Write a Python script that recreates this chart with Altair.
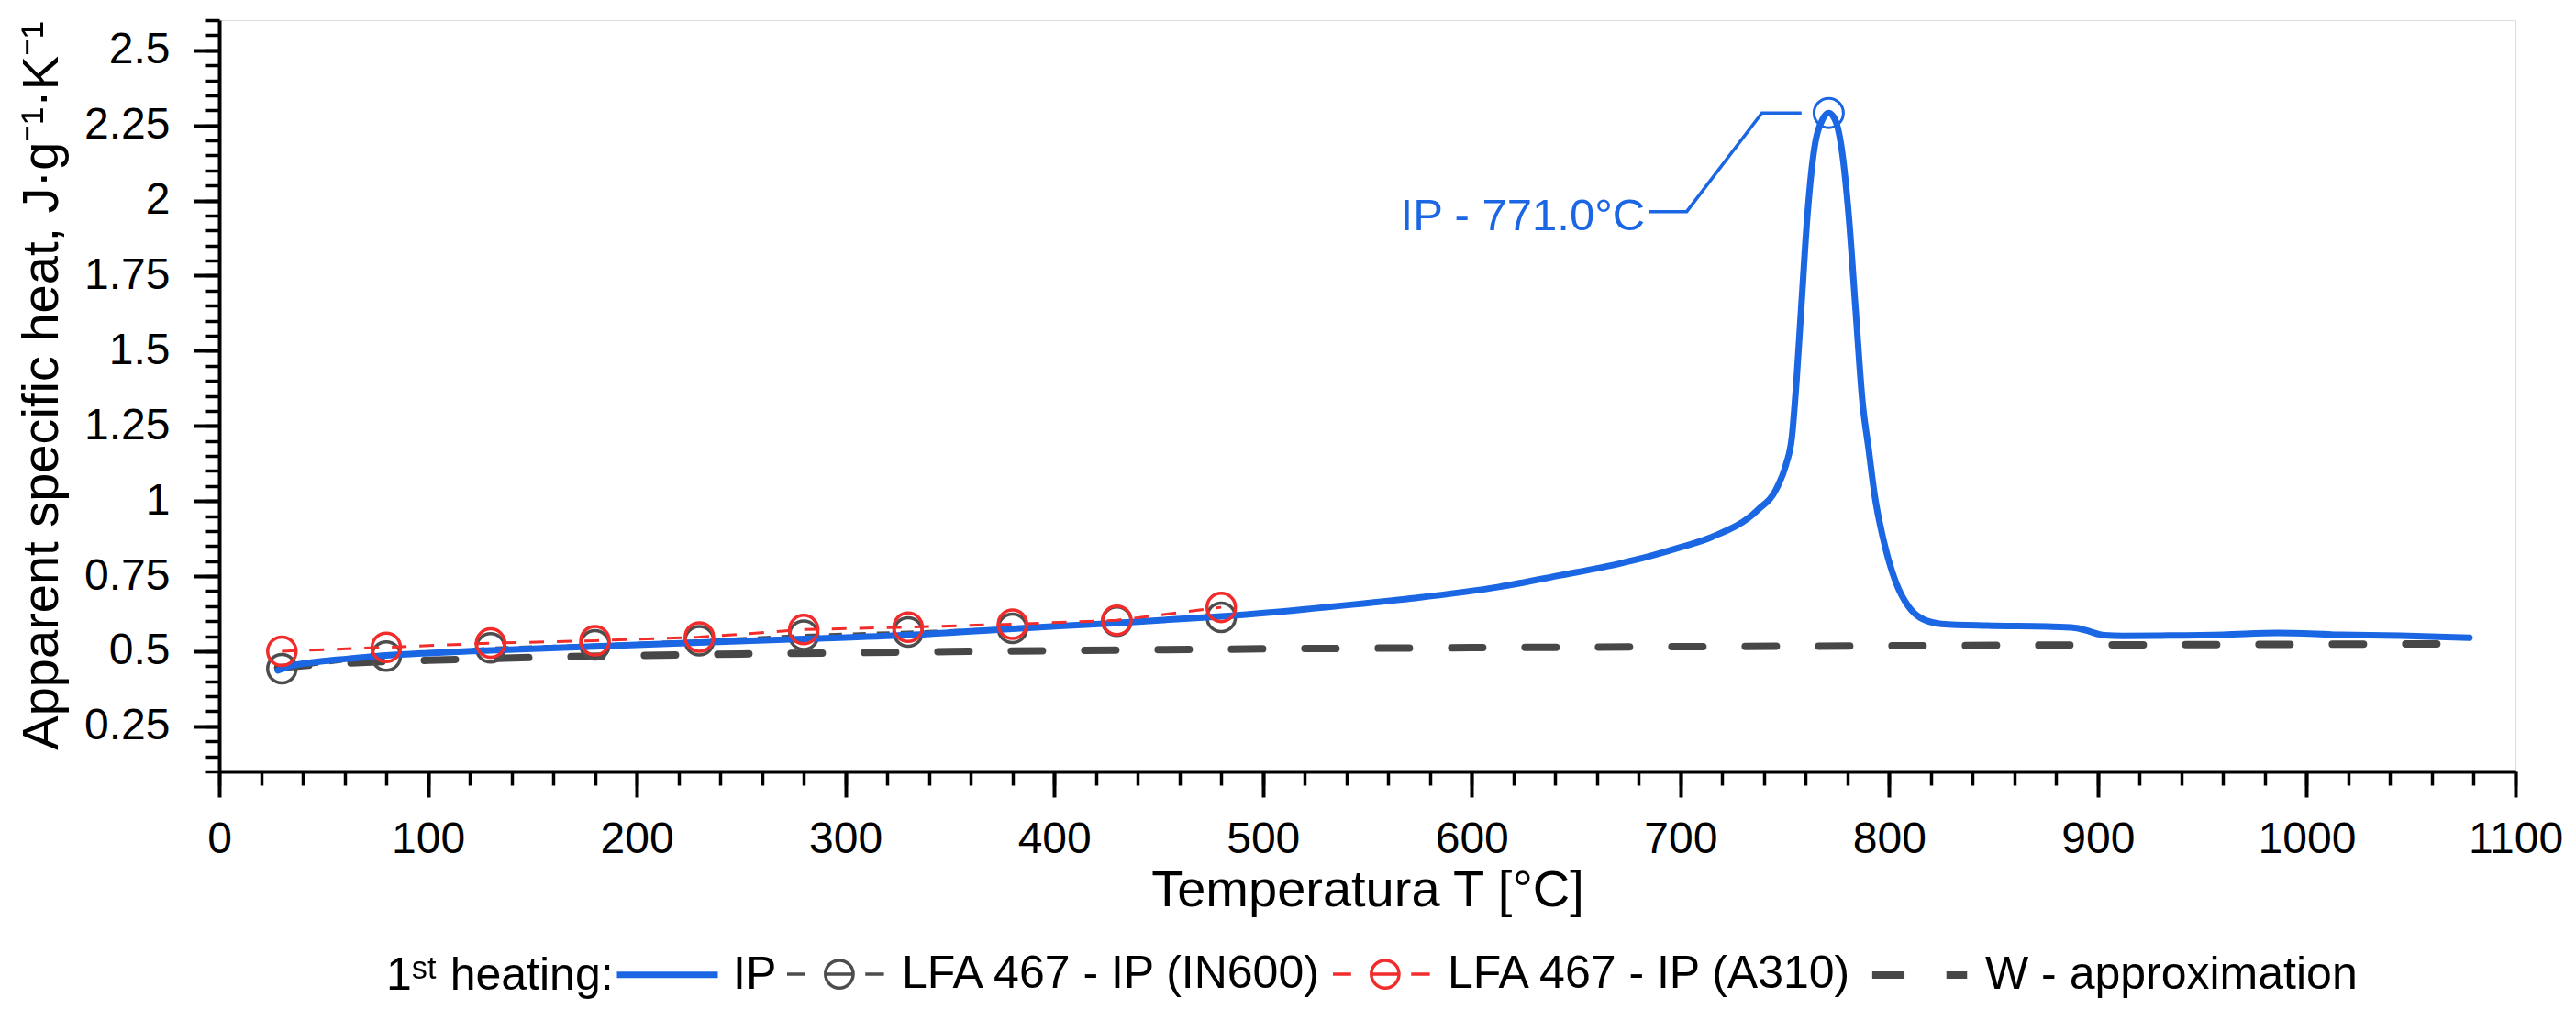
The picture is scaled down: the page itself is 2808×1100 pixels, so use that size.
import altair as alt
import pandas as pd

# ---------------- data ----------------
ip_T = [28, 35, 45, 55, 65, 80, 100, 130, 180, 230, 280, 330, 380, 430, 466,
        480, 525, 569, 613, 642, 671, 686, 700, 715, 737, 746, 750.5, 753.4, 755.6,
        757.8, 760.8, 763.7, 768.1, 771, 774, 777.6, 780.6, 783.9, 787.2, 790.1,
        793, 797.4, 803.3, 809.1, 815, 825, 847, 876, 889, 896, 903, 912, 930,
        960, 986, 1016, 1045, 1078]
ip_cp = [0.436, 0.452, 0.463, 0.471, 0.477, 0.486, 0.494, 0.503, 0.516, 0.529,
         0.541, 0.554, 0.575, 0.594, 0.610, 0.616, 0.643, 0.674, 0.714, 0.752,
         0.792, 0.818, 0.846, 0.880, 0.970, 1.041, 1.120, 1.214, 1.402, 1.636, 1.950,
         2.153, 2.270, 2.291, 2.270, 2.153, 1.950, 1.636, 1.329, 1.175, 1.020,
         0.866, 0.727, 0.650, 0.611, 0.591, 0.585, 0.582, 0.578, 0.566, 0.553,
         0.551, 0.552, 0.555, 0.561, 0.555, 0.552, 0.545]

lfa_T = [30, 80, 130, 180, 230, 280, 330, 380, 430, 480]
in600_cp = [0.442, 0.484, 0.511, 0.521, 0.535, 0.553, 0.564, 0.576, 0.600, 0.613]
a310_cp = [0.500, 0.513, 0.527, 0.535, 0.547, 0.572, 0.580, 0.590, 0.603, 0.646]

w_T = [28, 40, 60, 80, 100, 130, 160, 200, 250, 300, 350, 400, 450, 500, 600,
       700, 800, 900, 1000, 1078]
w_cp = [0.445, 0.452, 0.460, 0.466, 0.470, 0.476, 0.481, 0.486, 0.491, 0.495,
        0.499, 0.502, 0.505, 0.508, 0.512, 0.515, 0.518, 0.521, 0.523, 0.525]

peak_T = [771.0]
peak_cp = [2.291]
leader_T = [685, 703, 739, 758]
leader_cp = [1.963, 1.963, 2.291, 2.291]
label_T = [683]
label_cp = [1.90]
label_text = ["IP - 771.0°C"]

series_names = ["IP", "LFA 467 - IP (IN600)", "LFA 467 - IP (A310)", "W - approximation"]
series_colors = ["#1a66e3", "#4d4d4d", "#f22b2b", "#474747"]
legend_widths = [7, 3.5, 3.5, 8]
BLUE, GRAY, RED, DARK = series_colors

x_major = list(range(0, 1101, 100))
x_minor = list(range(0, 1101, 20))
y_major = [0.25, 0.5, 0.75, 1, 1.25, 1.5, 1.75, 2, 2.25, 2.5]
y_minor = [round(0.1 + 0.05 * i, 2) for i in range(51)]

# legend glyphs (unit-box symbol paths)
lfa_path = ("M-1,0H-0.64M-0.24,0H0.31M0.55,0H0.92"
            "M-0.24,0A0.275,0.275 0 1,0 0.31,0A0.275,0.275 0 1,0 -0.24,0")
legend_shapes = ["M-1,0H1", lfa_path, lfa_path, "M-0.93,0H-0.29M0.54,0H0.95"]

# ---------------- frames ----------------
ip_df = pd.DataFrame({"T": ip_T, "cp": ip_cp})
in600_df = pd.DataFrame({"T": lfa_T, "cp": in600_cp})
a310_df = pd.DataFrame({"T": lfa_T, "cp": a310_cp})
w_df = pd.DataFrame({"T": w_T, "cp": w_cp})
peak_df = pd.DataFrame({"T": peak_T, "cp": peak_cp})
leader_df = pd.DataFrame({"T": leader_T, "cp": leader_cp})
label_df = pd.DataFrame({"T": label_T, "cp": label_cp, "txt": label_text})
legend_df = pd.DataFrame({"series": series_names, "T": [1100] * 4, "cp": [2.6] * 4})

FONT = "Liberation Sans"
xs = alt.Scale(domain=[0, 1100], nice=False, zero=False)
ys = alt.Scale(domain=[0.1, 2.6], nice=False, zero=False)
cs = alt.Scale(domain=series_names, range=series_colors)

x_axis = alt.Axis(values=x_major, format="d", orient="bottom",
                  title="Temperatura T [°C]", titleFont=FONT, titleFontSize=56,
                  titleFontWeight="normal", titleColor="black", titleY=146,
                  titleBaseline="alphabetic",
                  tickSize=28, tickWidth=4, tickColor="black",
                  domainColor="black", domainWidth=4,
                  labelFont=FONT, labelFontSize=48, labelColor="black",
                  labelPadding=22, labelFlush=False, labelOverlap=False, grid=False)
y_axis = alt.Axis(values=y_major, format=".3~g", orient="left",
                  title="Apparent specific heat, J·g⁻¹·K⁻¹", titleFont=FONT,
                  titleFontSize=56, titleFontWeight="normal", titleColor="black",
                  titleAngle=270, titleX=-177, titleY=398, titleAlign="center",
                  titleBaseline="alphabetic",
                  tickSize=28, tickWidth=4, tickColor="black",
                  domainColor="black", domainWidth=4,
                  labelFont=FONT, labelFontSize=48, labelColor="black",
                  labelPadding=26, labelFlush=False, labelOverlap=False, grid=False)
x_minor_axis = alt.Axis(values=x_minor, orient="bottom", title=None, labels=False,
                        domain=False, grid=False, tickSize=15, tickWidth=3.5,
                        tickColor="black")
y_minor_axis = alt.Axis(values=y_minor, orient="left", title=None, labels=False,
                        domain=False, grid=False, tickSize=15, tickWidth=3.5,
                        tickColor="black")

legend = alt.Legend(
    orient="none", legendX=182, legendY=982, direction="horizontal",
    title="1ˢᵗ heating:", titleOrient="left", titleAnchor="middle",
    titleBaseline="line-top", titleLineHeight=37, titleFont=FONT, titleFontSize=50,
    titleFontWeight="normal", titleColor="black", titlePadding=0, titleLimit=1000,
    labelFont=FONT, labelFontSize=50, labelColor="black", labelLimit=2000,
    labelOffset=13, columnPadding=4, symbolSize=12100, symbolOpacity=1,
)

X = lambda axis=None: alt.X("T:Q", scale=xs, axis=axis)
Y = lambda axis=None: alt.Y("cp:Q", scale=ys, axis=axis)

w_line = alt.Chart(w_df).mark_line(strokeWidth=8, strokeDash=[34, 46],
                                   strokeCap="round", color=DARK).encode(
    x=X(x_minor_axis), y=Y(y_minor_axis))

in600_line = alt.Chart(in600_df).mark_line(strokeWidth=3, strokeDash=[14, 12],
                                          color=GRAY).encode(x=X(), y=Y())
in600_pts = alt.Chart(in600_df).mark_point(shape="circle", filled=False, size=961,
                                          strokeWidth=3.5, opacity=1,
                                          color=GRAY).encode(x=X(), y=Y())

ip_line = alt.Chart(ip_df).mark_line(strokeWidth=7, interpolate="monotone",
                                     strokeCap="round", strokeJoin="round",
                                     color=BLUE).encode(x=X(x_axis), y=Y(y_axis))

a310_line = alt.Chart(a310_df).mark_line(strokeWidth=3, strokeDash=[16, 14],
                                        color=RED).encode(x=X(), y=Y())
a310_pts = alt.Chart(a310_df).mark_point(shape="circle", filled=False, size=961,
                                        strokeWidth=3.5, opacity=1,
                                        color=RED).encode(x=X(), y=Y())

peak_pt = alt.Chart(peak_df).mark_point(shape="circle", filled=False, size=1024,
                                       strokeWidth=3, opacity=1,
                                       color=BLUE).encode(x=X(), y=Y())
leader = alt.Chart(leader_df).mark_line(strokeWidth=3.5, color=BLUE).encode(
    x=X(), y=Y())
label = alt.Chart(label_df).mark_text(font=FONT, fontSize=49, align="right",
                                     baseline="alphabetic", color=BLUE).encode(
    x=X(), y=Y(), text="txt:N")

# legend-only layer: invisible marks, the legend carries the per-series glyphs
legend_layer = alt.Chart(legend_df).mark_point(filled=False, opacity=0).encode(
    x=X(), y=Y(),
    color=alt.Color("series:N", scale=cs, legend=legend),
    shape=alt.Shape("series:N", scale=alt.Scale(domain=series_names,
                                                range=legend_shapes), legend=legend),
    strokeWidth=alt.StrokeWidth("series:N", sort=series_names,
                                scale=alt.Scale(type="ordinal", domain=series_names,
                                                range=legend_widths),
                                legend=legend),
)

chart = alt.layer(
    w_line, in600_line, in600_pts, ip_line, a310_line, a310_pts,
    peak_pt, leader, label, legend_layer
).resolve_axis(x="independent", y="independent").properties(
    width=2503, height=819,
    padding={"left": 231, "top": 14, "right": 56, "bottom": 250},
    autosize=alt.AutoSizeParams(type="none"),
).configure_view(stroke="black", strokeWidth=4).configure(font=FONT)

chart.save("out.html", embed_options={"renderer": "svg", "actions": False})
